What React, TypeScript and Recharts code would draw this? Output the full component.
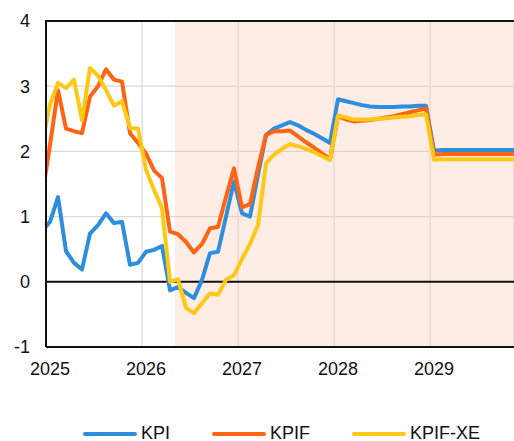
import React from 'react'
import {
  LineChart,
  Line,
  XAxis,
  YAxis,
  CartesianGrid,
  ReferenceArea,
  ReferenceLine,
  Legend
} from 'recharts'

// monthly values, Dec 2024 .. Nov 2029 (points sit mid-month)
const KPI = [
  0.78, 0.92, 1.3, 0.47, 0.29, 0.19, 0.74, 0.87, 1.05, 0.9, 0.92, 0.26, 0.29,
  0.46, 0.49, 0.55, -0.13, -0.08, -0.17, -0.25, 0.03, 0.44, 0.46, 1.0, 1.54,
  1.05, 1.0, 1.64, 2.25, 2.35, 2.4, 2.45, 2.4, 2.33, 2.27, 2.2, 2.13, 2.8, 2.77,
  2.74, 2.71, 2.69, 2.68, 2.68, 2.68, 2.69, 2.69, 2.7, 2.7, 2.01, 2.02, 2.02,
  2.02, 2.02, 2.02, 2.02, 2.02, 2.02, 2.02, 2.02
]
const KPIF = [
  1.3, 2.1, 2.94, 2.35, 2.31, 2.28, 2.84, 3.0, 3.26, 3.1, 3.07, 2.28, 2.13,
  1.97, 1.71, 1.59, 0.77, 0.73, 0.61, 0.45, 0.58, 0.82, 0.84, 1.3, 1.74, 1.14,
  1.19, 1.75, 2.25, 2.31, 2.31, 2.32, 2.23, 2.14, 2.06, 1.97, 1.88, 2.54, 2.49,
  2.46, 2.47, 2.48, 2.5, 2.52, 2.54, 2.57, 2.6, 2.63, 2.66, 1.95, 1.96, 1.96,
  1.96, 1.96, 1.96, 1.96, 1.96, 1.96, 1.96, 1.96
]
const KPIF_XE = [
  2.1, 2.72, 3.05, 2.97, 3.1, 2.48, 3.28, 3.16, 2.94, 2.7, 2.77, 2.36, 2.35,
  1.72, 1.41, 1.13, 0.0, 0.04, -0.4, -0.48, -0.33, -0.18, -0.2, 0.03, 0.1, 0.35,
  0.58, 0.87, 1.82, 1.95, 2.04, 2.11, 2.08, 2.04, 1.99, 1.93, 1.87, 2.55, 2.52,
  2.49, 2.49, 2.49, 2.5, 2.51, 2.52, 2.53, 2.54, 2.56, 2.57, 1.87, 1.88, 1.88,
  1.88, 1.88, 1.88, 1.88, 1.88, 1.88, 1.88, 1.88
]

const YEAR_TICKS = [2025, 2026, 2027, 2028, 2029]
const VALUE_TICKS = [-1, 0, 1, 2, 3, 4]
const FORECAST_START = 2026 + 4.1 / 12
const X_END = 2025 + 58.5 / 12

const SERIES = [
  { key: 'kpi', name: 'KPI', color: '#2e8ede' },
  { key: 'kpif', name: 'KPIF', color: '#ff6414' },
  { key: 'kpifxe', name: 'KPIF-XE', color: '#ffc814' }
]

const data = KPI.map((v, i) => ({
  t: 2024 + (11 + i + 0.5) / 12,
  kpi: v,
  kpif: KPIF[i],
  kpifxe: KPIF_XE[i]
}))

const FONT = '"Liberation Sans", Arial, sans-serif'

function LegendContent(): React.ReactElement {
  return (
    <div
      style={{
        display: 'flex',
        alignItems: 'center',
        height: 22,
        paddingLeft: 83,
        fontFamily: FONT,
        whiteSpace: 'nowrap'
      }}
    >
      {SERIES.map((s, i) => (
        <div
          key={s.key}
          style={{ display: 'flex', alignItems: 'center', flexShrink: 0, marginRight: i < SERIES.length - 1 ? 42 : 0 }}
        >
          <svg width={54} height={6} style={{ marginTop: 2 }}>
            <line x1={2} y1={3} x2={52} y2={3} stroke={s.color} strokeWidth={4} strokeLinecap="round" />
          </svg>
          <span style={{ marginLeft: 4, fontSize: 18, color: '#111', lineHeight: '22px' }}>{s.name}</span>
        </div>
      ))}
    </div>
  )
}

export default function App(): React.ReactElement {
  return (
    <div style={{ position: 'absolute', left: 0, top: 0, width: 514, height: 441 }}>
      <style>{'body{margin:0}'}</style>
      <LineChart width={514} height={441} data={data} margin={{ top: 21, right: 0, left: 0, bottom: 42 }}>
        <ReferenceArea
          x1={FORECAST_START}
          x2={X_END}
          y1={-1}
          y2={4}
          fill="#f8c3a8"
          fillOpacity={0.3}
          stroke="none"
        />
        <CartesianGrid stroke="#d9d9d9" strokeWidth={1.2} />
        <XAxis
          dataKey="t"
          type="number"
          domain={[2025, X_END]}
          allowDataOverflow
          ticks={YEAR_TICKS}
          tickLine={false}
          tickMargin={9}
          height={30}
          axisLine={{ stroke: '#111', strokeWidth: 2 }}
          tick={{ fill: '#111', fontSize: 18, fontFamily: FONT, dx: 4 }}
        />
        <YAxis
          type="number"
          domain={[-1, 4]}
          ticks={VALUE_TICKS}
          width={46}
          tickLine={false}
          tickMargin={10}
          axisLine={{ stroke: '#111', strokeWidth: 2 }}
          tick={{ fill: '#111', fontSize: 18, fontFamily: FONT }}
        />
        <ReferenceLine y={0} stroke="#111" strokeWidth={2} />
        {SERIES.map((s) => (
          <Line
            key={s.key}
            dataKey={s.key}
            name={s.name}
            stroke={s.color}
            strokeWidth={4}
            dot={false}
            activeDot={false}
            strokeLinejoin="round"
            isAnimationActive={false}
          />
        ))}
        <Legend
          verticalAlign="bottom"
          content={() => <LegendContent />}
          wrapperStyle={{ top: 422, bottom: 'auto', left: 0, width: 514, height: 22 }}
        />
      </LineChart>
      {/* top frame line of the plot area */}
      <div style={{ position: 'absolute', left: 45, top: 20, width: 469, height: 2, background: '#111' }} />
    </div>
  )
}
